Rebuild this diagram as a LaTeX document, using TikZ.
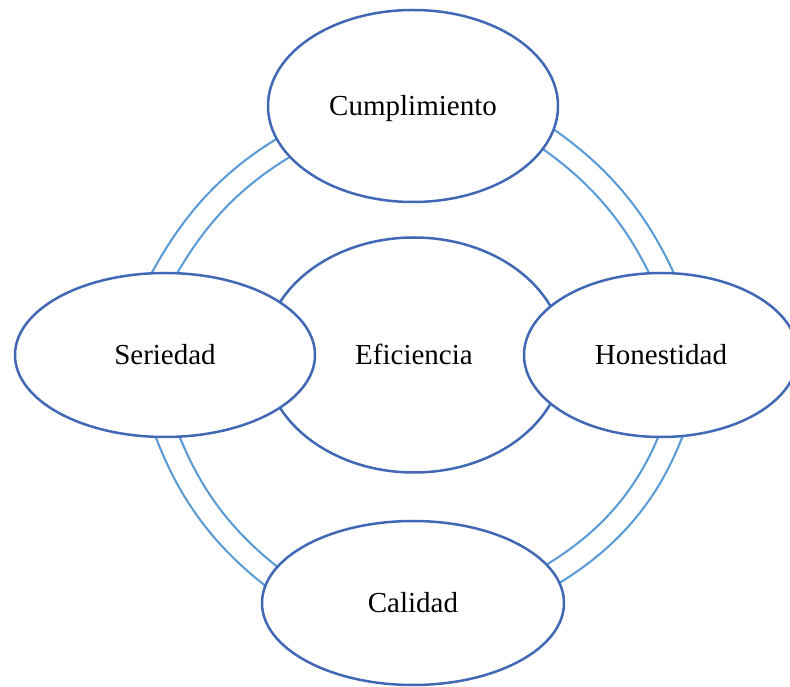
\documentclass[tikz,border=0pt]{standalone}
\usepackage{fontspec}
\setmainfont{Liberation Serif}
\usetikzlibrary{shapes.geometric}
\pgfdeclarelayer{background}
\pgfsetlayers{background,main}
\definecolor{ovalblue}{RGB}{64,104,180}
\definecolor{ringblue}{RGB}{91,155,213}
\begin{document}
\begin{tikzpicture}[x=1pt,y=1pt,
  oval/.style={ellipse, draw=ovalblue, line width=2.5pt, fill=white, inner sep=0pt,
    text height=19pt, text depth=0pt, font=\fontsize{29}{34}\selectfont},
  ring/.style={draw=ringblue, line width=2.2pt, double=white, double distance=20pt,
    shorten <=-12pt, shorten >=-12pt, looseness=0.88}]
\useasboundingbox (0,0) rectangle (790,686);
\node[oval, minimum width=300pt, minimum height=235pt] (eff) at (414,331) {Eficiencia};
\node[oval, minimum width=290pt, minimum height=192pt] (cum) at (413,580) {Cumplimiento};
\node[oval, minimum width=300pt, minimum height=164pt] (ser) at (165,331) {Seriedad};
\node[oval, minimum width=274pt, minimum height=164pt] (hon) at (661,331) {Honestidad};
\node[oval, minimum width=302pt, minimum height=164pt] (cal) at (413,83) {Calidad};
\begin{pgfonlayer}{background}
\draw[ring] (ser.north) to[out=62,in=210] (cum.198);
\draw[ring] (cum.346) to[out=-34,in=114] (hon.north);
\draw[ring] ([xshift=3pt]ser.south) to[out=-70,in=143] (cal.169);
\draw[ring] ([xshift=9pt]hon.south) to[out=250,in=30] (cal.12);
\end{pgfonlayer}
\end{tikzpicture}
\end{document}
